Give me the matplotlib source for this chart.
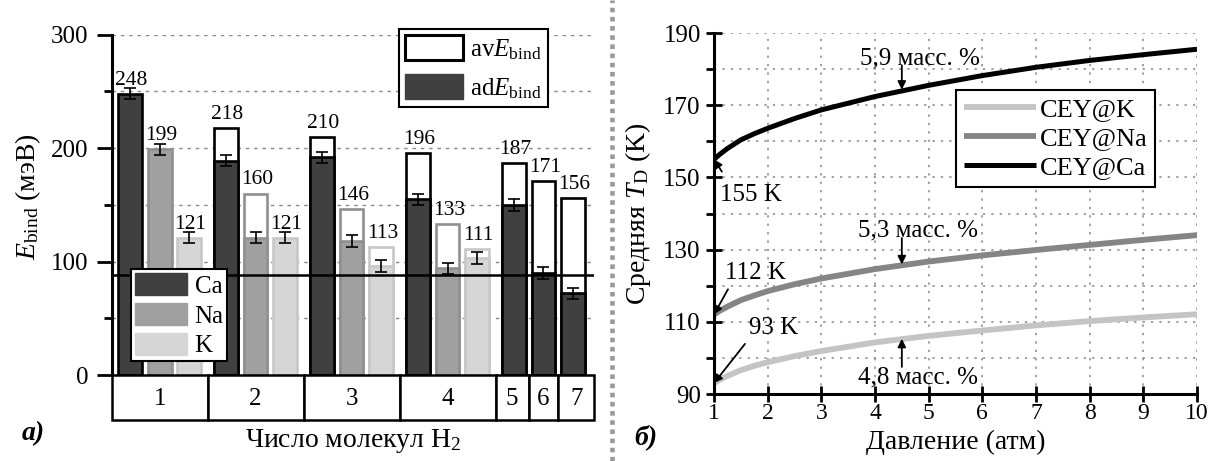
import matplotlib
matplotlib.use('Agg')
import matplotlib.pyplot as plt
from matplotlib.patches import Rectangle
from matplotlib.lines import Line2D
from matplotlib.patches import Patch

plt.rcParams['font.family'] = ['Liberation Serif', 'DejaVu Serif']
plt.rcParams['mathtext.fontset'] = 'custom'
plt.rcParams['mathtext.rm'] = 'Liberation Serif'
plt.rcParams['mathtext.it'] = 'Liberation Serif:italic'
plt.rcParams['mathtext.bf'] = 'Liberation Serif:bold'

# ---------------- data ----------------
group_labels = ['1', '2', '3', '4', '5', '6', '7']
elements = ['Ca', 'Na', 'K']
ca_av = [248, 218, 210, 196, 187, 171, 156]
ca_ad = [248, 189, 192, 155, 150, 90, 72]
na_av = [199, 160, 146, 133]
na_ad = [199, 121, 118, 94]
k_av = [121, 121, 113, 111]
k_ad = [121, 121, 96, 103]
err_val = 5
threshold = 88

pressure = [1, 1.1, 1.25, 1.5, 1.75, 2, 2.5, 3, 4, 5, 6, 7, 8, 9, 10]
t_ca = [155, 156.3, 158.0, 160.4, 162.1, 163.6, 166.3, 168.7, 172.4, 175.5, 178.2, 180.5, 182.4, 184.0, 185.5]
t_na = [112, 113.0, 114.2, 116.0, 117.3, 118.5, 120.4, 122.0, 124.6, 126.7, 128.4, 129.9, 131.3, 132.7, 134.0]
t_k = [93, 93.9, 95.0, 96.6, 97.8, 98.8, 100.5, 101.9, 104.3, 106.1, 107.6, 109.0, 110.2, 111.2, 112.1]
series_labels = ['CEY@K', 'CEY@Na', 'CEY@Ca']

# ---------------- layout ----------------
W, H = 1211, 461
fig = plt.figure(figsize=(W / 100, H / 100), dpi=100)

def ax_rect(l, r, t, b):
    return [l / W, (H - b) / H, (r - l) / W, (b - t) / H]

axL = fig.add_axes(ax_rect(112, 594, 34.7, 375))
axT = fig.add_axes(ax_rect(112, 594, 375, 420))
axR = fig.add_axes(ax_rect(714, 1197, 33, 394))

# slot positions of bars
ca_pos = [0, 3.25, 6.5, 9.75, 13, 14, 15]
na_pos = [1, 4.25, 7.5, 10.75]
k_pos = [2, 5.25, 8.5, 11.75]
bounds = [-0.61, 2.625, 5.875, 9.125, 12.375, 13.5, 14.5, 15.71]
bw = 0.81

fills = {'Ca': '#404040', 'Na': '#a0a0a0', 'K': '#d6d6d6'}
edges = {'Ca': '#000000', 'Na': '#909090', 'K': '#c8c8c8'}
elw = 1.9

def draw(pos, av, ad, el):
    for x, a, d in zip(pos, av, ad):
        if a > d:
            axL.bar(x, a, bw, facecolor='white', edgecolor=edges[el], linewidth=elw, zorder=2)
        axL.bar(x, d, bw, facecolor=fills[el], edgecolor=edges[el], linewidth=elw, zorder=2)
        axL.errorbar(x, d, yerr=err_val, color='black', capsize=4.5, capthick=1.2,
                     elinewidth=1.2, zorder=3)
        axL.annotate(str(a), (x, a), xytext=(1, 3), textcoords='offset points',
                     ha='center', va='bottom', fontsize=15.5)

draw(ca_pos, ca_av, ca_ad, 'Ca')
draw(na_pos, na_av, na_ad, 'Na')
draw(k_pos, k_av, k_ad, 'K')

axL.axhline(threshold, color='black', linewidth=1.8, zorder=4)
axL.set_xlim(bounds[0], bounds[-1])
axL.set_ylim(0, 300)
axL.set_yticks([0, 100, 200, 300])
axL.set_yticks([50, 150, 250], minor=True)
axL.set_xticks([])
for s in ['top', 'right', 'bottom']:
    axL.spines[s].set_visible(False)
axL.spines['left'].set_linewidth(2.2)
axL.tick_params(axis='y', which='major', direction='out', length=11, width=2, labelsize=18, pad=6)
axL.tick_params(axis='y', which='minor', direction='out', length=5.5, width=2)
axL.yaxis.grid(True, which='both', linestyle=(0, (2.5, 3.5)), color='#888888', linewidth=1)
axL.set_axisbelow(True)

leg1 = axL.legend(handles=[Patch(facecolor='white', edgecolor='black', linewidth=2.2),
                           Patch(facecolor='#404040', edgecolor='#404040')],
                  labels=[r'av$E_{\mathrm{bind}}$', r'ad$E_{\mathrm{bind}}$'],
                  loc='upper right', bbox_to_anchor=(0.905, 1.017), borderaxespad=0,
                  fontsize=18, handlelength=2.3, handleheight=1.15, handletextpad=0.3,
                  labelspacing=0.5, borderpad=0.25, fancybox=False, framealpha=1,
                  edgecolor='black')
leg1.get_frame().set_linewidth(1.5)
leg1.set_zorder(6)
axL.add_artist(leg1)

leg2 = axL.legend(handles=[Patch(facecolor=fills[e], edgecolor=fills[e]) for e in elements],
                  labels=elements, loc='lower left', bbox_to_anchor=(0.039, 0.041),
                  borderaxespad=0, fontsize=18, handlelength=2.1, handleheight=1.0,
                  handletextpad=0.3, labelspacing=0.2, borderpad=0.15, fancybox=False,
                  framealpha=1, edgecolor='black')
leg2.get_frame().set_linewidth(1.5)
leg2.set_zorder(6)

# table of group numbers
axT.set_xlim(bounds[0], bounds[-1])
axT.set_ylim(0, 1)
axT.axis('off')
for i, lab in enumerate(group_labels):
    l, r = bounds[i], bounds[i + 1]
    axT.add_patch(Rectangle((l, 0), r - l, 1, facecolor='white', edgecolor='black',
                            linewidth=1.8, clip_on=False))
    axT.text((l + r) / 2, 0.47, lab, ha='center', va='center', fontsize=18)

fig.text(28 / W, 1 - 197 / H, r'$E_{\mathrm{bind}}$ (мэВ)', rotation=90, ha='center',
         va='center', fontsize=20)
fig.text(353 / W, 1 - 441 / H, r'Число молекул H$_2$', ha='center', va='center', fontsize=20)
fig.text(33 / W, 1 - 434 / H, 'а)', ha='center', va='center', fontsize=20,
         fontweight='bold', fontstyle='italic')

# ---------------- right panel ----------------
axR.plot(pressure, t_k, color='#c4c4c4', linewidth=4.2, solid_capstyle='butt', label=series_labels[0])
axR.plot(pressure, t_na, color='#858585', linewidth=4.2, solid_capstyle='butt', label=series_labels[1])
axR.plot(pressure, t_ca, color='black', linewidth=3.6, solid_capstyle='butt', label=series_labels[2])
axR.set_xlim(1, 10)
axR.set_ylim(90, 190)
axR.set_xticks(range(1, 11))
axR.set_yticks([90, 110, 130, 150, 170, 190])
axR.set_yticks([100, 120, 140, 160, 180], minor=True)
for s in ['top', 'right']:
    axR.spines[s].set_visible(False)
for s in ['left', 'bottom']:
    axR.spines[s].set_linewidth(2.2)
axR.tick_params(axis='both', which='major', direction='inout', length=11, width=2, labelsize=18)
axR.tick_params(axis='x', which='major', pad=1, labelsize=17)
axR.tick_params(axis='y', which='major', pad=4)
axR.tick_params(axis='y', which='minor', direction='out', length=5.5, width=2)
axR.grid(True, which='both', linestyle=(0, (1.5, 4)), color='#888888', linewidth=1.1)
axR.set_axisbelow(True)

leg3 = axR.legend(loc='upper left', bbox_to_anchor=(0.502, 0.842), borderaxespad=0,
                  fontsize=19, handlelength=2.7, handletextpad=0.15, labelspacing=0.2,
                  borderpad=0.3, fancybox=False, framealpha=1, edgecolor='black')
leg3.get_frame().set_linewidth(1.5)

arrow = dict(arrowstyle='-|>', color='black', linewidth=1.3, mutation_scale=12,
             shrinkA=0, shrinkB=0)
axR.annotate('5,9 масс. %', xy=(4.5, 174.3), xytext=(3.72, 183), fontsize=18,
             ha='left', va='center')
axR.annotate('', xy=(4.5, 174.3), xytext=(4.5, 181), arrowprops=arrow)
axR.annotate('5,3 масс. %', xy=(4.5, 125.9), xytext=(3.68, 135.4), fontsize=18,
             ha='left', va='center')
axR.annotate('', xy=(4.5, 125.9), xytext=(4.5, 133.2), arrowprops=arrow)
axR.annotate('4,8 масс. %', xy=(4.5, 105.3), xytext=(3.68, 94.6), fontsize=18,
             ha='left', va='center')
axR.annotate('', xy=(4.5, 105.3), xytext=(4.5, 97.5), arrowprops=arrow)
axR.annotate('155 K', xy=(1.0, 155), xytext=(1.12, 145.2), fontsize=18, ha='left', va='center',
             arrowprops=dict(arrowstyle='-|>', color='black', linewidth=1.3, mutation_scale=12,
                             shrinkA=8, shrinkB=0, relpos=(0.15, 1)))
axR.annotate('112 K', xy=(1.0, 112), xytext=(1.2, 123.5), fontsize=18, ha='left', va='center',
             arrowprops=dict(arrowstyle='-|>', color='black', linewidth=1.3, mutation_scale=12,
                             shrinkA=2, shrinkB=0, relpos=(0.1, 0)))
axR.annotate('93 K', xy=(1.0, 93), xytext=(1.65, 108.3), fontsize=18, ha='left', va='center',
             arrowprops=dict(arrowstyle='-|>', color='black', linewidth=1.3, mutation_scale=12,
                             shrinkA=2, shrinkB=0, relpos=(0.0, 0)))

axR.set_xlabel('Давление (атм)', fontsize=20, labelpad=0)
axR.set_ylabel(r'Средняя $T_{\mathrm{D}}$ (K)', fontsize=20, labelpad=2)
axR.yaxis.set_label_coords((653 - 714) / 483, 0.5)
axR.xaxis.set_label_coords(0.5, -(430 - 394) / 361)
fig.text(646 / W, 1 - 437 / H, 'б)', ha='center', va='center', fontsize=20,
         fontweight='bold', fontstyle='italic')

# dotted separator
fig.add_artist(Line2D([612 / W, 612 / W], [0, 1], transform=fig.transFigure,
                      color='#999999', linewidth=3.3, linestyle=(0, (1, 1.0)),
                      solid_capstyle='butt', dash_capstyle='butt'))

fig.savefig('out.png', dpi=100)
